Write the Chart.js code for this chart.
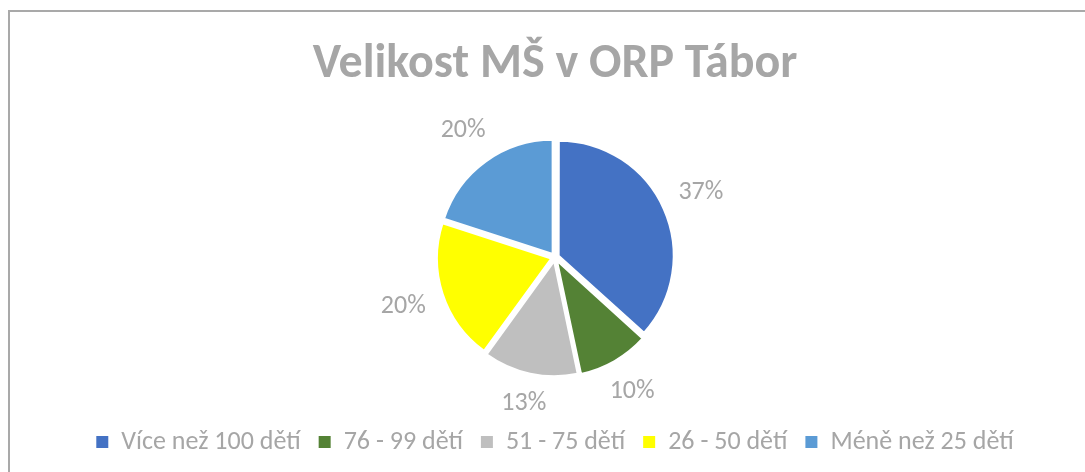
<!DOCTYPE html>
<html>
<head>
<meta charset="utf-8">
<script src="https://cdn.jsdelivr.net/npm/chart.js@4/dist/chart.umd.min.js"></script>
<style>
  html, body { margin: 0; padding: 0; background: #fff; overflow: hidden; }
  #frame {
    position: absolute; left: 8px; top: 10px; width: 1094px; height: 480px;
    border-left: 2px solid #a9a9a9; border-top: 2px solid #a9a9a9;
  }
  #wrap { position: absolute; left: 8px; top: 10px; width: 1094px; height: 470px; }
</style>
</head>
<body>
<div id="frame"></div>
<div id="wrap"><canvas id="pie"></canvas></div>
<script>
var titleText = 'Velikost MŠ v ORP Tábor';
var categories = ['Více než 100 dětí', '76 - 99 dětí', '51 - 75 dětí', '26 - 50 dětí', 'Méně než 25 dětí'];
var shares = [36.7, 10.0, 13.3, 20.0, 20.0];
var colors = ['#4472C4', '#548235', '#BFBFBF', '#FFFF00', '#5B9BD5'];

var FONT = "Carlito, Lato, 'Open Sans', sans-serif";
var GREY = '#a6a6a6';

// percentage labels placed outside each slice, box edge a fixed gap from the rim
var outsideLabels = {
    id: 'outsideLabels',
    afterDatasetsDraw: function (chart) {
        var ctx = chart.ctx;
        var meta = chart.getDatasetMeta(0);
        ctx.save();
        ctx.font = '26px ' + FONT;
        ctx.fillStyle = GREY;
        ctx.textAlign = 'center';
        ctx.textBaseline = 'middle';
        meta.data.forEach(function (arc, i) {
            var p = arc.getProps(['x', 'y', 'startAngle', 'endAngle', 'outerRadius'], true);
            var mid = (p.startAngle + p.endAngle) / 2;
            var txt = Math.round(shares[i]) + '%';
            var w = ctx.measureText(txt).width;
            var c = Math.cos(mid), s = Math.sin(mid);
            var r = p.outerRadius + 21 + Math.abs(c) * w / 2 + Math.abs(s) * 10;
            ctx.fillText(txt, p.x + c * r, p.y + s * r);
        });
        ctx.restore();
    }
};

var chart = new Chart(document.getElementById('pie'), {
    type: 'pie',
    data: {
        labels: categories,
        datasets: [{
            data: shares,
            backgroundColor: colors,
            borderColor: '#ffffff',
            borderWidth: 2,
            offset: 16
        }]
    },
    options: {
        responsive: true,
        maintainAspectRatio: false,
        animation: false,
        radius: 114,
        layout: { padding: { top: 0, bottom: 15, left: 0, right: 0 } },
        plugins: {
            title: {
                display: true,
                text: titleText,
                color: GREY,
                font: { family: FONT, size: 48, weight: 'bold' },
                padding: { top: 26, bottom: 10 }
            },
            legend: {
                position: 'bottom',
                labels: {
                    color: GREY,
                    font: { family: FONT, size: 26 },
                    boxWidth: 12,
                    boxHeight: 12,
                    padding: 18,
                    generateLabels: function (c) {
                        var items = Chart.controllers.pie.overrides.plugins.legend.labels.generateLabels(c);
                        items.forEach(function (it) { it.lineWidth = 0; it.strokeStyle = it.fillStyle; });
                        return items;
                    }
                }
            },
            tooltip: { enabled: false }
        }
    },
    plugins: [outsideLabels]
});
</script>
</body>
</html>
